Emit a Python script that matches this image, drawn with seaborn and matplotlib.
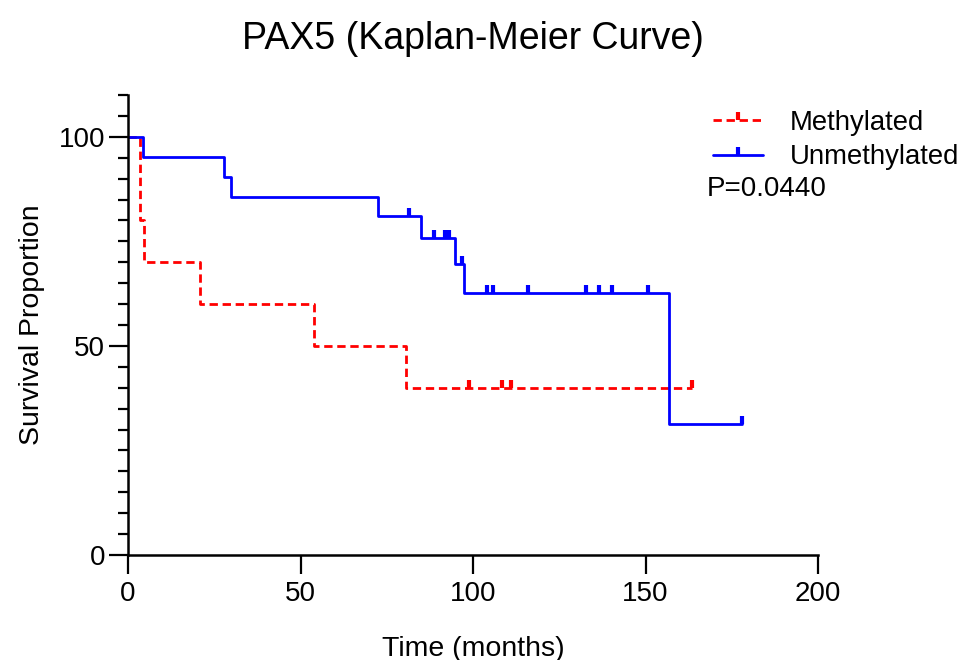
import numpy as np
import pandas as pd
import seaborn as sns
import matplotlib.pyplot as plt
from matplotlib.lines import Line2D

# Kaplan-Meier steps (time in months, survival in %)
meth_time = [0, 3.5, 4.6, 20.9, 53.9, 80.6, 163.4]
meth_surv = [100, 80, 70, 60, 50, 40, 40]
meth_cens_time = [98.7, 108.3, 110.9, 163.4]
meth_cens_surv = [40, 40, 40, 40]

unmeth_time = [0, 4.4, 27.9, 29.9, 72.6, 84.8, 94.8, 97.5, 156.8, 177.9]
unmeth_surv = [100, 95.2, 90.5, 85.7, 81.0, 75.9, 69.6, 62.6, 31.3, 31.3]
unmeth_cens_time = [81.5, 88.7, 91.8, 93.0, 96.7, 104.2, 105.8, 115.8,
                    132.7, 136.6, 140.2, 150.6, 177.9]
unmeth_cens_surv = [81.0, 75.9, 75.9, 75.9, 69.6, 62.6, 62.6, 62.6,
                    62.6, 62.6, 62.6, 62.6, 31.3]

groups = ['Methylated', 'Unmethylated']
colors = {'Methylated': '#FF0000', 'Unmethylated': '#0000FF'}
p_value = 'P=0.0440'

df = pd.concat([
    pd.DataFrame({'time': meth_time, 'surv': meth_surv, 'group': 'Methylated'}),
    pd.DataFrame({'time': unmeth_time, 'surv': unmeth_surv, 'group': 'Unmethylated'}),
], ignore_index=True)

sns.set_style('ticks', {'axes.edgecolor': 'black', 'text.color': 'black',
                        'axes.labelcolor': 'black', 'xtick.color': 'black',
                        'ytick.color': 'black'})
plt.rcParams['font.family'] = ['Liberation Sans', 'DejaVu Sans']

fig = plt.figure(figsize=(9.64, 6.6), dpi=100)
ax = fig.add_axes([128 / 964, 105 / 660, 690 / 964, 460 / 660])

dash = (3.0, 1.7)
sns.lineplot(data=df, x='time', y='surv', hue='group', style='group',
             palette=colors, dashes={'Methylated': dash, 'Unmethylated': ''},
             drawstyle='steps-post', estimator=None, sort=False,
             linewidth=2, legend=False, ax=ax)

# censor ticks (drawn upward from the curve)
ax.plot(meth_cens_time, meth_cens_surv, linestyle='none', marker=2,
        markersize=6, markeredgewidth=3, color=colors['Methylated'])
ax.plot(unmeth_cens_time, unmeth_cens_surv, linestyle='none', marker=2,
        markersize=6, markeredgewidth=3, color=colors['Unmethylated'])

ax.set_xlim(0, 200)
ax.set_ylim(0, 110)
ax.set_xticks([0, 50, 100, 150, 200])
ax.set_yticks([0, 50, 100])
ax.set_yticks(np.arange(0, 111, 5), minor=True)
sns.despine(ax=ax)
for s in ['left', 'bottom']:
    ax.spines[s].set_linewidth(1.8)
ax.tick_params(axis='both', which='major', length=13.5, width=1.6,
               labelsize=20, direction='out', colors='black')
ax.tick_params(axis='x', pad=5)
ax.tick_params(axis='y', pad=3)
ax.tick_params(axis='y', which='minor', length=7, width=1.6, colors='black')

ax.set_xlabel('Time (months)', fontsize=20.5, labelpad=21)
ax.set_ylabel('Survival Proportion', fontsize=20.5, labelpad=10)
ax.set_title('PAX5 (Kaplan-Meier Curve)', fontsize=27, pad=33)

handles = [
    Line2D([], [], color=colors['Methylated'], linewidth=2, dashes=dash,
           marker=2, markersize=6, markeredgewidth=3),
    Line2D([], [], color=colors['Unmethylated'], linewidth=2,
           marker=2, markersize=6, markeredgewidth=3),
]
fig.legend(handles, groups, loc='upper left', frameon=False,
           bbox_to_anchor=(713 / 964, 550 / 660), fontsize=19.8,
           borderpad=0, borderaxespad=0, handlelength=1.8,
           handletextpad=1.0, labelspacing=0.3, numpoints=1)
fig.text(707 / 964, (660 - 189) / 660, p_value, fontsize=20, va='center')

fig.savefig('out.png', dpi=100)
